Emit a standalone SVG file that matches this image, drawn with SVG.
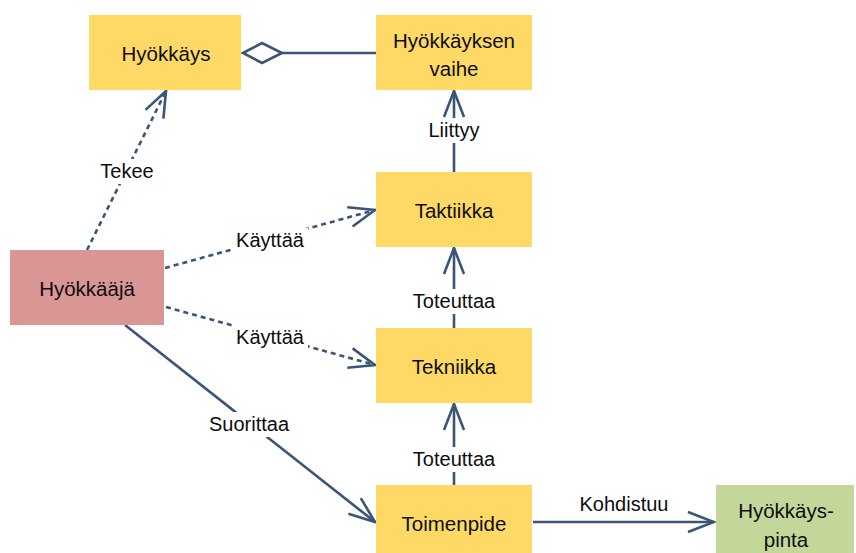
<svg xmlns="http://www.w3.org/2000/svg" width="856" height="553" viewBox="0 0 856 553">
  <style>
    .box { stroke: none; }
    .yellow { fill: #FFD966; }
    .pink { fill: #D99694; }
    .green { fill: #C4D79B; }
    .txt { font-family: "Liberation Sans", Arial, sans-serif; font-size: 20.5px; fill: #0d0d0d; text-anchor: middle; dominant-baseline: central; }
    .lbl { font-family: "Liberation Sans", Arial, sans-serif; font-size: 20px; fill: #0d0d0d; text-anchor: middle; dominant-baseline: central; }
    .line { stroke: #3B5577; stroke-width: 2.6; fill: none; }
    .dash { stroke-dasharray: 5 4; }
    .bg { fill: #fff; }
  </style>
  <defs>
    <marker id="open" markerUnits="userSpaceOnUse" viewBox="0 0 30 24" markerWidth="30" markerHeight="24" refX="28" refY="12" orient="auto">
      <path d="M2,2 L28,12 L2,22" fill="none" stroke="#3B5577" stroke-width="2.6" stroke-linejoin="miter"/>
    </marker>
  </defs>

  <!-- connectors -->
  <g id="connectors">
    <!-- aggregation: vaihe -> Hyökkäys -->
    <line class="line" x1="376" y1="53" x2="282" y2="53"/>
    <polygon points="243,53 262,43 282,53 262,63" fill="#fff" stroke="#3B5577" stroke-width="2.6"/>

    <!-- Tekee -->
    <line class="line dash" x1="87" y1="250" x2="166" y2="91" marker-end="url(#open)"/>
    <rect class="bg" x="97" y="159" width="60" height="25"/>
    <text class="lbl" x="127" y="171">Tekee</text>

    <!-- Käyttää (Taktiikka) -->
    <line class="line dash" x1="165" y1="268" x2="375" y2="210" marker-end="url(#open)"/>
    <rect class="bg" x="232" y="228" width="76" height="25"/>
    <text class="lbl" x="270" y="240">Käyttää</text>

    <!-- Käyttää (Tekniikka) -->
    <line class="line dash" x1="166" y1="307" x2="375" y2="365" marker-end="url(#open)"/>
    <rect class="bg" x="232" y="325" width="76" height="25"/>
    <text class="lbl" x="270" y="337">Käyttää</text>

    <!-- Suorittaa -->
    <line class="line" x1="125" y1="325" x2="375" y2="522" marker-end="url(#open)"/>
    <rect class="bg" x="202" y="412" width="94" height="25"/>
    <text class="lbl" x="249" y="424">Suorittaa</text>

    <!-- Liittyy -->
    <line class="line" x1="454" y1="172" x2="454" y2="91" marker-end="url(#open)"/>
    <rect class="bg" x="418" y="118" width="72" height="25"/>
    <text class="lbl" x="454" y="130">Liittyy</text>

    <!-- Toteuttaa (Tekniikka -> Taktiikka) -->
    <line class="line" x1="454" y1="328" x2="454" y2="248" marker-end="url(#open)"/>
    <rect class="bg" x="404" y="289" width="100" height="25"/>
    <text class="lbl" x="454" y="301">Toteuttaa</text>

    <!-- Toimenpide -> Tekniikka -->
    <line class="line" x1="454" y1="485" x2="454" y2="404" marker-end="url(#open)"/>
    <rect class="bg" x="404" y="447" width="100" height="25"/>
    <text class="lbl" x="454" y="459">Toteuttaa</text>

    <!-- Kohdistuu -->
    <line class="line" x1="533" y1="522" x2="714" y2="522" marker-end="url(#open)"/>
    <text class="lbl" x="624" y="504">Kohdistuu</text>
  </g>

  <!-- nodes -->
  <g id="hyokkays">
    <rect class="box yellow" x="89" y="15" width="152" height="75"/>
    <text class="txt" x="166" y="53">Hyökkäys</text>
  </g>
  <g id="hyokkayksen-vaihe">
    <rect class="box yellow" x="376" y="15" width="156" height="75"/>
    <text class="txt" x="454" y="40">Hyökkäyksen</text>
    <text class="txt" x="454" y="68">vaihe</text>
  </g>
  <g id="taktiikka">
    <rect class="box yellow" x="376" y="172" width="156" height="75"/>
    <text class="txt" x="454" y="210">Taktiikka</text>
  </g>
  <g id="hyokkaaja">
    <rect class="box pink" x="10" y="250" width="154" height="75"/>
    <text class="txt" x="87" y="288">Hyökkääjä</text>
  </g>
  <g id="tekniikka">
    <rect class="box yellow" x="376" y="328" width="156" height="75"/>
    <text class="txt" x="454" y="366">Tekniikka</text>
  </g>
  <g id="toimenpide">
    <rect class="box yellow" x="376" y="485" width="156" height="75"/>
    <text class="txt" x="454" y="523">Toimenpide</text>
  </g>
  <g id="hyokkayspinta">
    <rect class="box green" x="716" y="485" width="138" height="75"/>
    <text class="txt" x="786" y="510">Hyökkäys-</text>
    <text class="txt" x="786" y="539">pinta</text>
  </g>
</svg>
